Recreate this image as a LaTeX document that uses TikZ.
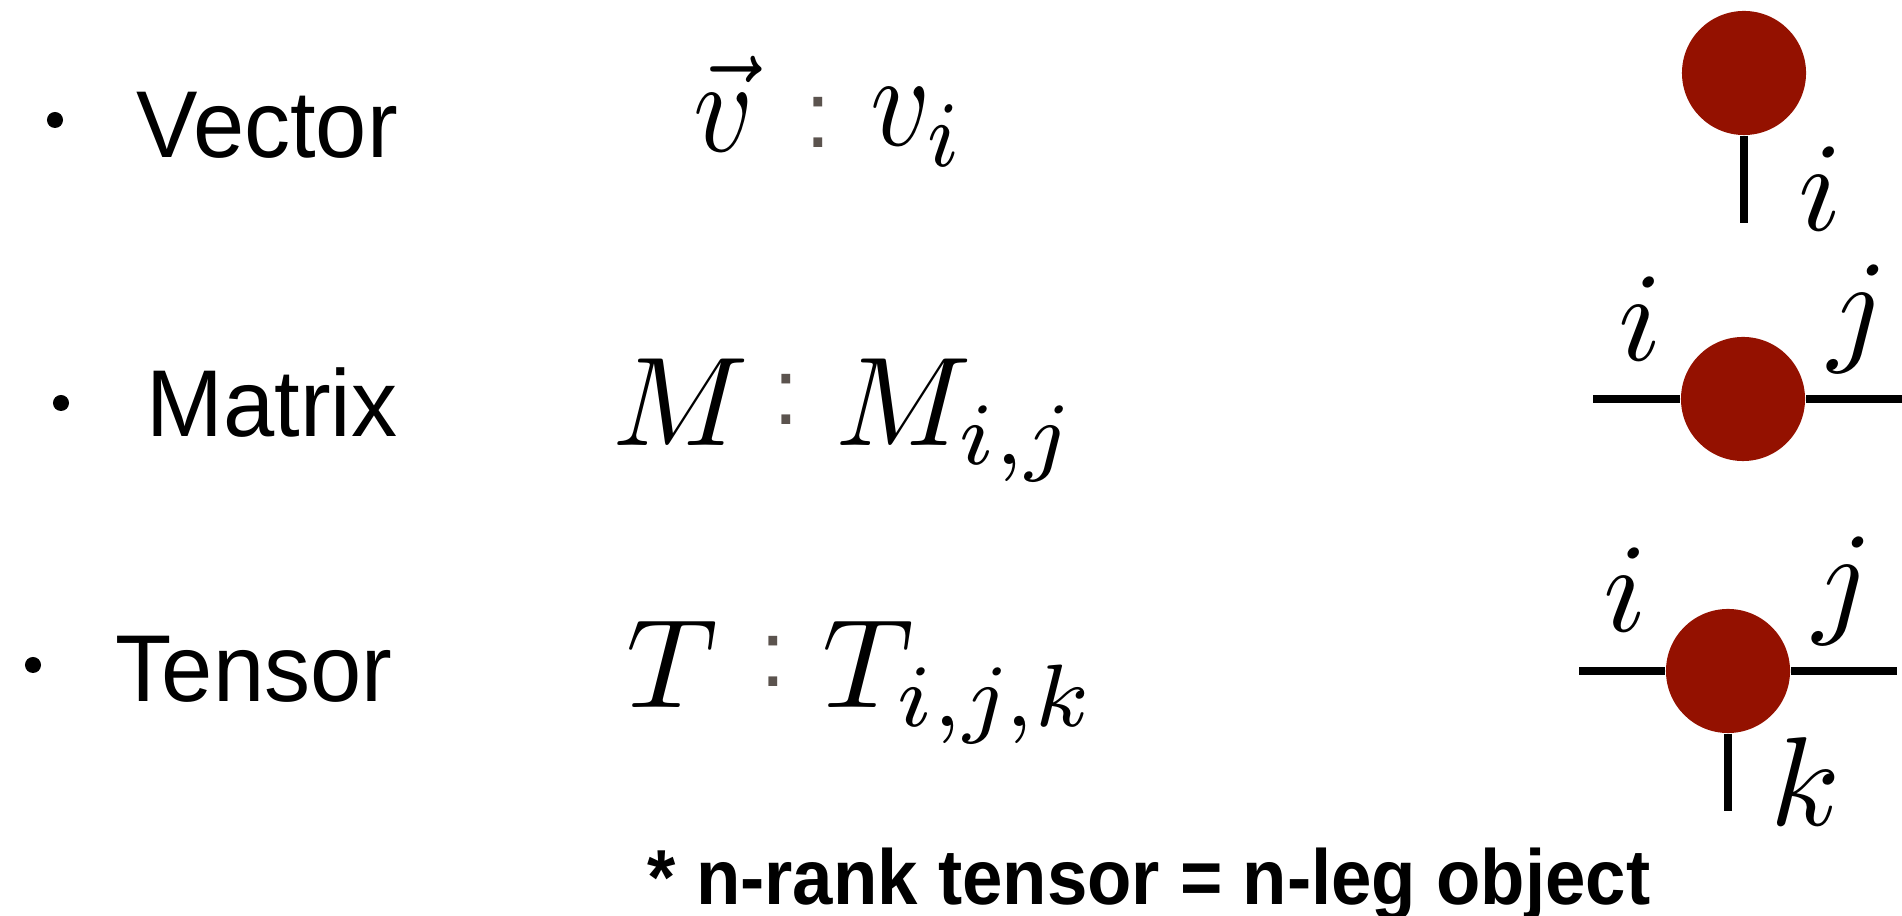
\documentclass[tikz,border=0pt]{standalone}
\DeclareFontShape{OML}{cmm}{m}{it}{<-26>cmmi7<26->cmmi10}{}
\DeclareFontShape{OMS}{cmsy}{m}{n}{<-26>cmsy7<26->cmsy10}{}
\DeclareFontShape{OT1}{cmr}{m}{n}{<-26>cmr7<26->cmr10}{}
\DeclareFontShape{OMX}{cmex}{m}{n}{<->cmex10}{}
\usepackage{graphicx}
\usepackage{fontspec}
\newfontfamily\labelfont[FakeStretch=0.97]{Liberation Sans}
\newfontfamily\notefont[FakeStretch=0.93]{Liberation Sans Bold}
\definecolor{tred}{HTML}{941100}
\definecolor{colgray}{HTML}{5B534E}
\begin{document}
\begin{tikzpicture}[x=0.01cm,y=-0.01cm,
  txt/.style={font=\labelfont\fontsize{27}{30}\selectfont, inner sep=0pt, anchor=base west},
  mth/.style={font=\fontsize{36}{40}\selectfont, inner sep=0pt, anchor=base west},
  vmth/.style={font=\fontsize{33}{38}\selectfont, inner sep=0pt, anchor=base west},
  colonmark/.style={font=\labelfont\fontsize{27}{30}\selectfont, text=colgray, inner sep=0pt, anchor=base},
  idx/.style={font=\fontsize{36}{40}\selectfont, inner sep=0pt, anchor=base},
  bul/.style={circle, fill=black, minimum size=0.16cm, inner sep=0pt},
  tnode/.style={circle, fill=tred, minimum size=1.24cm, inner sep=0pt},
  leg/.style={line width=2.2pt, black},
  note/.style={font=\notefont\fontsize{22.2}{26}\selectfont, inner sep=0pt, anchor=base west}]
\useasboundingbox (0,0) rectangle (1902,916);
% bullets and names
\node[bul] (b1) at (55,120) {};
\node[bul] (b2) at (61,403) {};
\node[bul] (b3) at (33,665) {};
\node[txt] (tv) at (136,158) {Vector};
\node[txt] (tm) at (146,437) {Matrix};
\node[txt] (tt) at (115,702) {Tensor};
% formulas
\node[vmth] (v1) at (693,152) {\scalebox{1}[1.15]{$\vec{v}$}};
\node[colonmark] (c1) at (818,148) {:};
\node[vmth] (v2) at (870,146) {\scalebox{1}[1.15]{$v_i$}};
\node[mth] (m1) at (612,446) {$M$};
\node[colonmark] (c2) at (786,425) {:};
\node[mth] (m2) at (835,446) {$M_{i,j}$};
\node[mth] (t1) at (626,708) {$T$};
\node[colonmark] (c3) at (773,687) {:};
\node[mth] (t2) at (822,708) {$T_{i,j,k}$};
% vector diagram
\node[tnode] (vc) at (1744,73) {};
\coordinate (vl) at (1744,223);
\draw[leg] (vc) -- (vl);
\node[idx] (vi) at (1820,231) {$i$};
% matrix diagram
\node[tnode] (mc) at (1743,399) {};
\coordinate (ml) at (1593,399);
\coordinate (mr) at (1902,399);
\draw[leg] (ml) -- (mc);
\draw[leg] (mc) -- (mr);
\node[idx] (mi) at (1640,361) {$i$};
\node[idx] (mj) at (1858,349) {$j$};
% tensor diagram
\node[tnode] (tc) at (1728,671) {};
\coordinate (tl) at (1579,671);
\coordinate (tr) at (1897,671);
\coordinate (tk) at (1728,811);
\draw[leg] (tl) -- (tc);
\draw[leg] (tc) -- (tr);
\draw[leg] (tc) -- (tk);
\node[idx] (ti) at (1625,632) {$i$};
\node[idx] (tj) at (1843,621) {$j$};
\node[idx] (tkl) at (1805,826) {$k$};
% note
\node[note] (nt) at (647,905) {* n-rank tensor = n-leg object};
\end{tikzpicture}
\end{document}
